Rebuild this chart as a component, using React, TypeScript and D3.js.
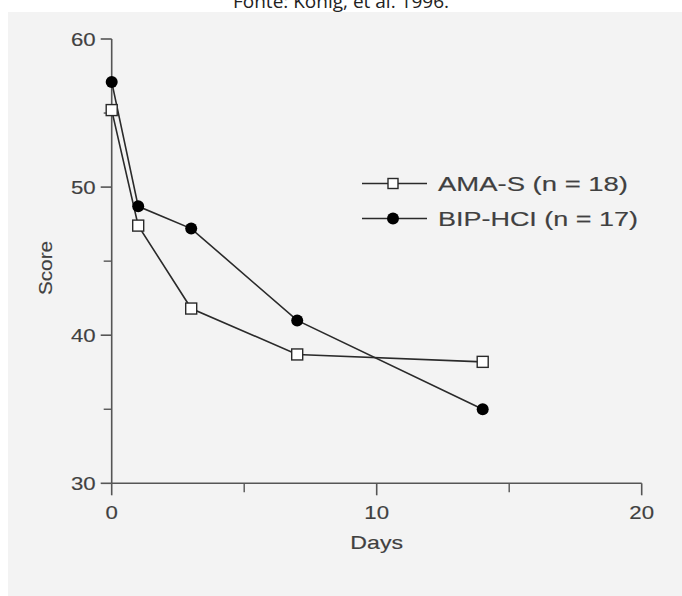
import React from "react";
import * as d3 from "d3";

const days = [0, 1, 3, 7, 14];
const amaS = [55.2, 47.4, 41.8, 38.7, 38.2];
const bipHcl = [57.1, 48.7, 47.2, 41.0, 35.0];
const xMajorTicks = [0, 10, 20];
const xMinorTicks = [5, 15];
const yMajorTicks = [30, 40, 50, 60];
const yMinorTicks = [35, 45, 55];
const legendLabels = ["AMA-S (n = 18)", "BIP-HCI (n = 17)"];
const titleText = "Fonte: Konig, et al. 1996.";

const W = 682;
const H = 596;

export default function App() {
  const x = d3.scaleLinear().domain([0, 20]).range([111.7, 641.7]);
  const y = d3.scaleLinear().domain([30, 60]).range([483.3, 39]);
  const line = d3
    .line<[number, number]>()
    .x((d) => x(d[0]))
    .y((d) => y(d[1]));
  const ptsA: [number, number][] = days.map((d, i) => [d, amaS[i]]);
  const ptsB: [number, number][] = days.map((d, i) => [d, bipHcl[i]]);
  const ink = "#2a2a2a";
  const axisC = "#555";
  const txt = "#404040";
  const font = "Liberation Sans, Arial, sans-serif";
  const sx = 1.2;
  const tStroke = { stroke: txt, strokeWidth: 0.15 };

  return (
    <svg
      width={W}
      height={H}
      style={{ position: "absolute", left: 0, top: 0, display: "block" }}
      fontFamily={font}
    >
      <rect x={0} y={0} width={W} height={H} fill="#ffffff" />
      <rect x={8} y={12} width={W - 8} height={H - 12} fill="#f3f3f3" />
      <text x={341} y={8} textAnchor="middle" fontSize={19} fill="#222" fontFamily="Open Sans, sans-serif">
        {titleText}
      </text>

      {/* axes */}
      <line x1={x(0)} x2={x(0)} y1={y(60)} y2={y(30)} stroke={axisC} strokeWidth={1.6} />
      <line x1={x(0)} x2={x(20)} y1={y(30)} y2={y(30)} stroke={axisC} strokeWidth={1.6} />
      {yMajorTicks.map((t) => (
        <line key={"ym" + t} x1={x(0) - 11} x2={x(0)} y1={y(t)} y2={y(t)} stroke={axisC} strokeWidth={1.6} />
      ))}
      {yMinorTicks.map((t) => (
        <line key={"yn" + t} x1={x(0) - 8} x2={x(0)} y1={y(t)} y2={y(t)} stroke={axisC} strokeWidth={1.4} />
      ))}
      {xMajorTicks.map((t) => (
        <line key={"xm" + t} x1={x(t)} x2={x(t)} y1={y(30)} y2={y(30) + 12} stroke={axisC} strokeWidth={1.6} />
      ))}
      {xMinorTicks.map((t) => (
        <line key={"xn" + t} x1={x(t)} x2={x(t)} y1={y(30)} y2={y(30) + 9} stroke={axisC} strokeWidth={1.4} />
      ))}
      {yMajorTicks.map((t) => (
        <g key={"yl" + t} transform={`translate(${x(0) - 16},${y(t) + 6.5}) scale(${sx},1)`}>
          <text textAnchor="end" fontSize={18.5} fill={txt} {...tStroke}>
            {t}
          </text>
        </g>
      ))}
      {xMajorTicks.map((t) => (
        <g key={"xl" + t} transform={`translate(${x(t)},${y(30) + 36}) scale(${sx},1)`}>
          <text textAnchor="middle" fontSize={18.5} fill={txt} {...tStroke}>
            {t}
          </text>
        </g>
      ))}
      <g transform={`translate(${x(10)},${549}) scale(1.25,1)`}>
        <text textAnchor="middle" fontSize={18.5} fill={txt} {...tStroke}>
          Days
        </text>
      </g>
      <g transform={`translate(52,268) rotate(-90) scale(1.12,1)`}>
        <text textAnchor="middle" fontSize={18.5} fill={txt} {...tStroke}>
          Score
        </text>
      </g>

      {/* series */}
      <path d={line(ptsA) || ""} fill="none" stroke={ink} strokeWidth={1.6} />
      <path d={line(ptsB) || ""} fill="none" stroke={ink} strokeWidth={1.6} />
      {ptsB.map((p, i) => (
        <circle key={"b" + i} cx={x(p[0])} cy={y(p[1])} r={6} fill="#000" />
      ))}
      {ptsA.map((p, i) => (
        <rect
          key={"a" + i}
          x={x(p[0]) - 5.5}
          y={y(p[1]) - 5.5}
          width={11}
          height={11}
          fill="#fff"
          stroke={ink}
          strokeWidth={1.4}
        />
      ))}

      {/* legend */}
      {legendLabels.map((lab, i) => {
        const ly = 183.5 + i * 35;
        return (
          <g key={"lg" + i}>
            <line x1={362} x2={427} y1={ly} y2={ly} stroke={ink} strokeWidth={1.6} />
            {i === 0 ? (
              <rect x={393 - 5} y={ly - 5} width={10} height={10} fill="#fff" stroke={ink} strokeWidth={1.4} />
            ) : (
              <circle cx={393} cy={ly} r={6} fill="#000" />
            )}
            <text
              x={438}
              y={ly + 7.5}
              fontSize={20}
              fill={txt}
              {...tStroke}
              textLength={i === 0 ? 190 : 200}
              lengthAdjust="spacingAndGlyphs"
            >
              {lab}
            </text>
          </g>
        );
      })}
    </svg>
  );
}
